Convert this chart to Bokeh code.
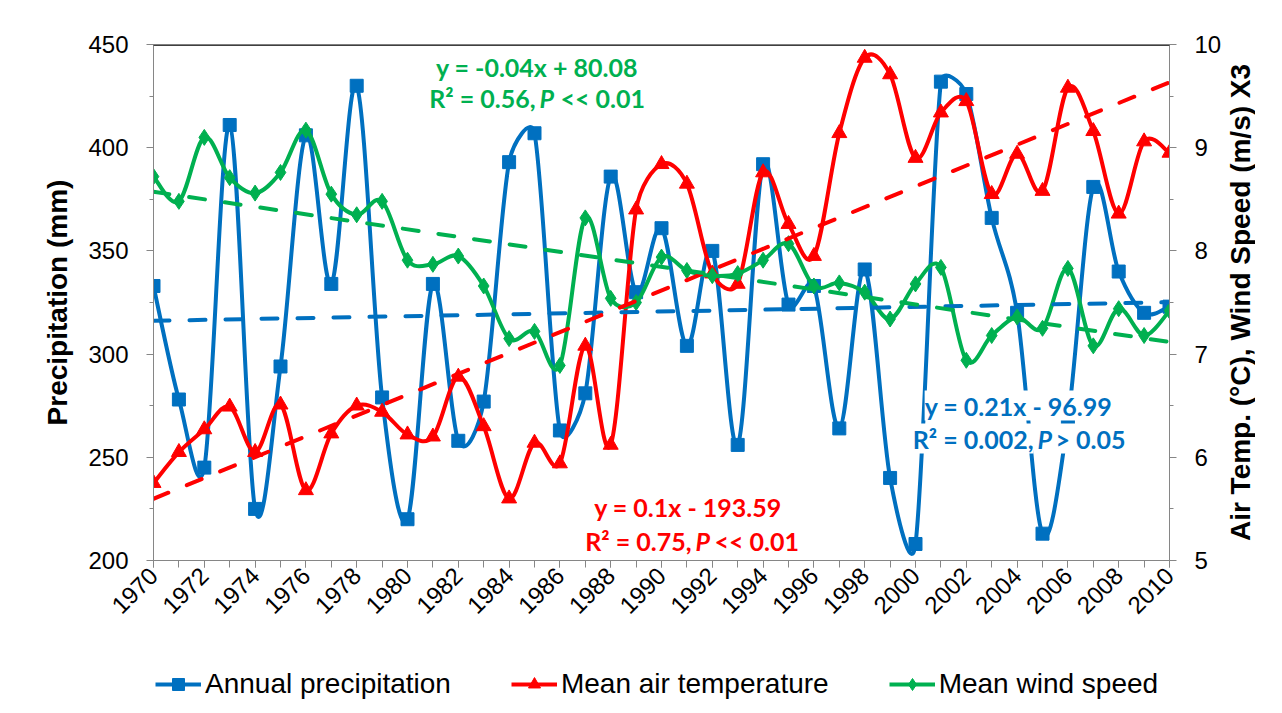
import math
import numpy as np
from bokeh.plotting import figure
from bokeh.layouts import column
from bokeh.models import (Range1d, LinearAxis, SingleIntervalTicker, Span, Label,
                          Legend, LegendItem, ColumnDataSource)
from bokeh.embed import file_html
from bokeh.resources import INLINE

# ---------------- data ----------------
years = list(range(1970, 2011))
precipitation = [333, 278, 245, 411, 225, 294, 406, 334, 430, 279,
                 220, 334, 258, 277, 393, 407, 263, 281, 386, 330,
                 361, 304, 350, 256, 392, 324, 333, 264, 341, 240,
                 208, 432, 426, 366, 320, 213, 268, 381, 340, 320, 323]
air_temp = [5.75, 6.05, 6.27, 6.49, 6.05, 6.51, 5.68, 6.23, 6.50, 6.44,
            6.22, 6.20, 6.78, 6.30, 5.60, 6.14, 5.94, 7.08, 6.12, 8.40,
            8.84, 8.65, 7.78, 7.68, 8.76, 8.26, 7.95, 9.14, 9.87, 9.71,
            8.90, 9.34, 9.45, 8.55, 8.94, 8.58, 9.58, 9.16, 8.36, 9.06, 8.95]
wind_speed = [8.72, 8.48, 9.10, 8.71, 8.56, 8.76, 9.17, 8.55, 8.35, 8.48,
              7.91, 7.87, 7.95, 7.66, 7.15, 7.22, 6.89, 8.32, 7.54, 7.50,
              7.94, 7.81, 7.76, 7.78, 7.91, 8.07, 7.66, 7.69, 7.60, 7.34,
              7.68, 7.84, 6.94, 7.18, 7.36, 7.25, 7.83, 7.08, 7.44, 7.18, 7.42]

series_names = ["Annual precipitation", "Mean air temperature", "Mean wind speed"]
eq_precip = ["y = 0.21x - 96.99", "R² = 0.002,", "P", "> 0.05"]
eq_temp = ["y = 0.1x - 193.59", "R² = 0.75,", "P", "<< 0.01"]
eq_wind = ["y = -0.04x + 80.08", "R² = 0.56,", "P", "<< 0.01"]
right_title = "Air Temp. (°C), Wind Speed (m/s) X3"
left_title = "Precipitation (mm)"

BLUE = "#0070C0"
RED = "#FF0000"
GREEN = "#00B050"
AXIS_GRAY = "#868686"

# ---------------- main figure ----------------
W, H = 1282, 713
FL, FR, FT, FB = 153, 1169, 44, 560   # frame edges in pixels
BOTTOM = 100                          # x-axis band under the frame
X0, X1 = 1970, 2010
YL0, YL1 = 200, 450
YR0, YR1 = 5, 10

p = figure(frame_width=FR - FL, frame_height=FB - FT,
           output_backend="svg", toolbar_location=None,
           x_range=Range1d(X0, X1), y_range=Range1d(YL0, YL1),
           min_border_left=FL, min_border_right=0,
           min_border_top=FT, min_border_bottom=BOTTOM,
           background_fill_color="white", border_fill_color="white")
p.outline_line_color = None
p.xgrid.visible = False
p.ygrid.visible = False
p.extra_y_ranges = {"right": Range1d(YR0, YR1)}

KX = (FR - FL) / (X1 - X0)            # px per year
KY_L = (FB - FT) / (YL1 - YL0)        # px per mm
KY_R = (FB - FT) / (YR1 - YR0)        # px per unit (right axis)

def px_x(px):
    return X0 + (px - FL) / KX

def px_y(py):
    return YL0 + (FB - py) / KY_L

def px_yr(py):
    return YR0 + (FB - py) / KY_R

TICK_FONT = "Liberation Sans"

# x axis
xa = p.xaxis[0]
xa.ticker = SingleIntervalTicker(interval=2, num_minor_ticks=2)
xa.major_label_orientation = math.pi / 4
xa.axis_line_color = AXIS_GRAY
xa.major_tick_line_color = AXIS_GRAY
xa.minor_tick_line_color = AXIS_GRAY
xa.major_tick_in = 0
xa.minor_tick_in = 0
xa.major_tick_out = 7
xa.minor_tick_out = 7
xa.major_label_text_font = TICK_FONT
xa.major_label_text_font_size = "24px"
xa.major_label_text_color = "black"
xa.major_label_standoff = 4

# left axis
ya = p.yaxis[0]
ya.ticker = SingleIntervalTicker(interval=50, num_minor_ticks=2)
ya.axis_label = left_title

# right axis (ticks + numbers)
ra = LinearAxis(y_range_name="right",
                ticker=SingleIntervalTicker(interval=1, num_minor_ticks=2))
p.add_layout(ra, "right")

for ax in [ya, ra]:
    ax.axis_line_color = AXIS_GRAY
    ax.major_tick_line_color = AXIS_GRAY
    ax.minor_tick_line_color = AXIS_GRAY
    ax.major_tick_in = 0
    ax.minor_tick_in = 0
    ax.major_tick_out = 7
    ax.minor_tick_out = 4
    ax.major_label_text_font = TICK_FONT
    ax.major_label_text_font_size = "24px"
    ax.major_label_text_color = "black"
    ax.major_label_standoff = 18
    ax.axis_label_text_font = TICK_FONT
    ax.axis_label_text_font_style = "bold"
    ax.axis_label_text_font_size = "28px"
    ax.axis_label_text_color = "black"
    ax.axis_label_standoff = 12

# right title, reading bottom-to-top, in the right side panel
p.add_layout(Label(x=px_x(1240), y=px_yr(302), y_range_name="right", text=right_title,
                   angle=math.pi / 2, text_align="center", text_baseline="middle",
                   text_font=TICK_FONT, text_font_style="bold", text_font_size="28px",
                   text_color="black"), "right")

# top border line of the plot area
p.add_layout(Span(location=YL1, dimension="width", line_color="black", line_width=2.5))

# ------------- smooth series: Bezier segments with Excel-like control points -------------
def bezier_source(xs, ys, ky):
    n = len(xs)
    X = [(x - X0) * KX for x in xs]
    Y = [y * ky for y in ys]
    d = dict(x0=[], y0=[], x1=[], y1=[], cx0=[], cy0=[], cx1=[], cy1=[])
    for i in range(n - 1):
        i0 = max(i - 1, 0)
        i3 = min(i + 2, n - 1)
        seg = math.hypot(X[i + 1] - X[i], Y[i + 1] - Y[i])
        t1x, t1y = (X[i + 1] - X[i0]) / 6.0, (Y[i + 1] - Y[i0]) / 6.0
        t2x, t2y = (X[i3] - X[i]) / 6.0, (Y[i3] - Y[i]) / 6.0
        l1, l2 = math.hypot(t1x, t1y), math.hypot(t2x, t2y)
        if l1 > seg / 2 and l1 > 0:
            s = seg / 2 / l1
            t1x, t1y = t1x * s, t1y * s
        if l2 > seg / 2 and l2 > 0:
            s = seg / 2 / l2
            t2x, t2y = t2x * s, t2y * s
        d["x0"].append(xs[i]); d["y0"].append(ys[i])
        d["x1"].append(xs[i + 1]); d["y1"].append(ys[i + 1])
        d["cx0"].append(xs[i] + t1x / KX); d["cy0"].append(ys[i] + t1y / ky)
        d["cx1"].append(xs[i + 1] - t2x / KX); d["cy1"].append(ys[i + 1] - t2y / ky)
    return ColumnDataSource(d)

def trend(xs, ys):
    k, b = np.polyfit(np.array(xs, float), np.array(ys, float), 1)
    return [xs[0], xs[-1]], [k * xs[0] + b, k * xs[-1] + b]

LW = 4
specs = [
    (precipitation, BLUE, "square", 13, "default", KY_L),
    (air_temp, RED, "triangle", 15, "right", KY_R),
    (wind_speed, GREEN, "diamond", 16, "right", KY_R),
]
for vals, col, marker, size, rng, ky in specs:
    kw = {} if rng == "default" else {"y_range_name": rng}
    src = bezier_source(years, vals, ky)
    p.bezier(x0="x0", y0="y0", x1="x1", y1="y1", cx0="cx0", cy0="cy0",
             cx1="cx1", cy1="cy1", source=src, line_color=col, line_width=LW, **kw)
    p.scatter(years, vals, marker=marker, size=size, fill_color=col, line_color=col, **kw)

for vals, col, marker, size, rng, ky in specs:
    kw = {} if rng == "default" else {"y_range_name": rng}
    tx, ty = trend(years, vals)
    p.line(tx, ty, line_color=col, line_width=LW, line_dash="16 20", line_cap="round", **kw)

# ---------------- equation labels ----------------
EQ_FONT = "Lato"
EQ_SIZE = "25px"

def eq_block(texts, col, line1_cx, line1_base, a_right, p_left, c_left, line2_base, bg=None):
    common = dict(text_color=col, text_font=EQ_FONT, text_font_size=EQ_SIZE,
                  text_font_style="bold", text_baseline="alphabetic")
    if bg:
        common.update(background_fill_color=bg)
    p.add_layout(Label(x=px_x(line1_cx), y=px_y(line1_base), text=texts[0],
                       text_align="center", **common))
    p.add_layout(Label(x=px_x(a_right), y=px_y(line2_base), text=texts[1],
                       text_align="right", **common))
    c2 = dict(common)
    c2["text_font_style"] = "bold italic"
    p.add_layout(Label(x=px_x(p_left), y=px_y(line2_base), text=texts[2],
                       text_align="left", **c2))
    p.add_layout(Label(x=px_x(c_left), y=px_y(line2_base), text=texts[3],
                       text_align="left", **common))

eq_block(eq_wind, GREEN, 536.5, 66, 535, 539, 560, 97)
eq_block(eq_temp, RED, 687.5, 506, 691, 695, 714, 540)
eq_block(eq_precip, BLUE, 1018, 405, 1033, 1037, 1055, 438, bg="white")

# ---------------- legend strip (own small figure under the chart) ----------------
# The series are drawn again here but fall outside this strip's ranges, so only
# the legend (which takes its glyph styles from them) is visible.
LH = H - (FB + BOTTOM)
lg = figure(frame_width=W, frame_height=LH, output_backend="svg", toolbar_location=None,
            x_axis_type=None, y_axis_type=None, x_range=Range1d(0, 1), y_range=Range1d(0, 1),
            min_border=0, outline_line_color=None,
            background_fill_color="white", border_fill_color="white")
items = []
for (vals, col, marker, size, rng, ky), name in zip(specs, series_names):
    lr = lg.line(x=years, y=vals, line_color=col, line_width=LW)
    mr = lg.scatter(x=years, y=vals, marker=marker, size=size, fill_color=col, line_color=col)
    items.append(LegendItem(label=name, renderers=[lr, mr]))

legend = Legend(items=items, orientation="horizontal",
                location=(155, LH - 10 - 30),
                label_text_font=TICK_FONT, label_text_font_size="28px",
                label_text_color="black", glyph_width=46, glyph_height=30,
                label_standoff=4, spacing=60, padding=0, margin=0,
                border_line_color=None, background_fill_alpha=0)
lg.add_layout(legend, "center")

layout = column(p, lg, spacing=0)
open("out.html", "w").write(file_html(layout, INLINE))
